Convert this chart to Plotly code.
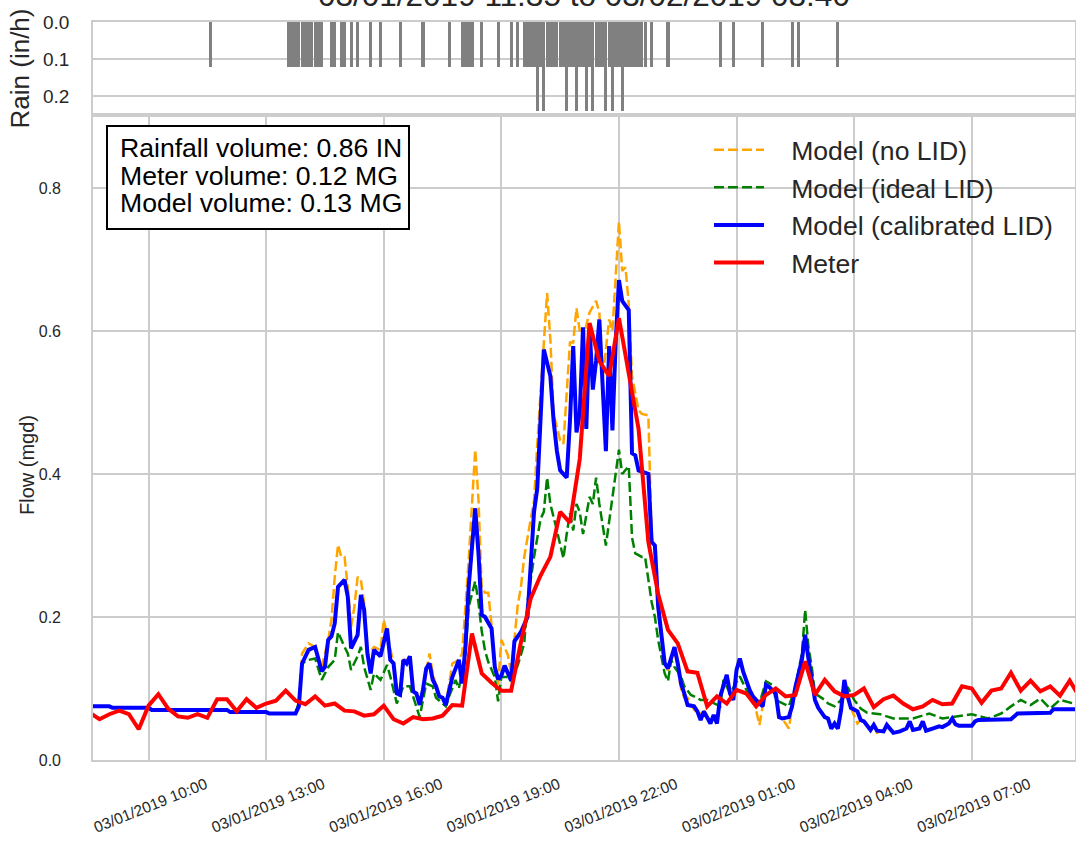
import plotly.graph_objects as go
import pandas as pd
from datetime import datetime


def ts(s):
    d, hm = s.split()
    h, m = hm.split(":")
    return datetime(2019, 3, int(d), int(h), int(m))


# ---------------- data ----------------
meter_start = "2019-03-01 08:30"
meter_vals = [
    0.066, 0.057, 0.064, 0.069, 0.064, 0.043, 0.076, 0.092, 0.072, 0.061,
    0.059, 0.064, 0.059, 0.085, 0.085, 0.068, 0.085, 0.073, 0.079, 0.083,
    0.097, 0.083, 0.078, 0.089, 0.076, 0.079, 0.069, 0.068, 0.062, 0.064,
    0.076, 0.057, 0.051, 0.060, 0.057, 0.058, 0.062, 0.077, 0.076, 0.177,
    0.121, 0.108, 0.097, 0.097, 0.165, 0.226, 0.258, 0.284, 0.347, 0.332,
    0.421, 0.611, 0.558, 0.537, 0.618, 0.542, 0.463, 0.305, 0.232, 0.182,
    0.163, 0.124, 0.122, 0.075, 0.089, 0.079, 0.098, 0.093, 0.075, 0.091,
    0.100, 0.089, 0.091, 0.138, 0.091, 0.112, 0.096, 0.089, 0.091, 0.100,
    0.074, 0.085, 0.090, 0.079, 0.071, 0.075, 0.084, 0.078, 0.079, 0.103,
    0.100, 0.080, 0.097, 0.100, 0.122, 0.097, 0.111, 0.096, 0.103, 0.090,
    0.111, 0.088,
]

calib_times = [
    "1 08:30", "1 09:00", "1 09:05", "1 10:00", "1 10:05", "1 12:00", "1 12:05", "1 13:00",
    "1 13:05", "1 13:45", "1 13:50", "1 13:55", "1 14:05", "1 14:15", "1 14:25", "1 14:30",
    "1 14:35", "1 14:40", "1 14:45", "1 14:50", "1 15:00", "1 15:05", "1 15:10", "1 15:15",
    "1 15:20", "1 15:25", "1 15:30", "1 15:35", "1 15:40", "1 15:45", "1 15:55", "1 16:05",
    "1 16:10", "1 16:15", "1 16:20", "1 16:25", "1 16:30", "1 16:35", "1 16:40", "1 16:45",
    "1 16:50", "1 16:55", "1 17:00", "1 17:05", "1 17:10", "1 17:15", "1 17:20", "1 17:25",
    "1 17:30", "1 17:35", "1 17:40", "1 17:45", "1 17:55", "1 18:00", "1 18:05", "1 18:10",
    "1 18:20", "1 18:25", "1 18:30", "1 18:35", "1 18:45", "1 18:50", "1 18:55", "1 19:00",
    "1 19:05", "1 19:15", "1 19:20", "1 19:30", "1 19:40", "1 19:50", "1 19:55", "1 20:00",
    "1 20:05", "1 20:15", "1 20:20", "1 20:25", "1 20:30", "1 20:40", "1 20:45", "1 20:50",
    "1 20:55", "1 21:00", "1 21:05", "1 21:10", "1 21:15", "1 21:20", "1 21:25", "1 21:30",
    "1 21:35", "1 21:40", "1 21:45", "1 21:50", "1 21:55", "1 22:00", "1 22:05", "1 22:15",
    "1 22:20", "1 22:25", "1 22:30", "1 22:45", "1 22:50", "1 22:55", "1 23:00", "1 23:10",
    "1 23:15", "1 23:25", "1 23:30", "1 23:35", "1 23:40", "1 23:45", "1 23:55", "2 00:00",
    "2 00:05", "2 00:10", "2 00:20", "2 00:25", "2 00:30", "2 00:35", "2 00:45", "2 00:50",
    "2 00:55", "2 01:00", "2 01:05", "2 01:10", "2 01:20", "2 01:25", "2 01:35", "2 01:40",
    "2 01:45", "2 01:50", "2 02:00", "2 02:05", "2 02:10", "2 02:20", "2 02:25", "2 02:30",
    "2 02:40", "2 02:45", "2 02:50", "2 02:55", "2 03:00", "2 03:05", "2 03:15", "2 03:20",
    "2 03:25", "2 03:30", "2 03:35", "2 03:40", "2 03:45", "2 03:50", "2 03:55", "2 04:05",
    "2 04:10", "2 04:15", "2 04:25", "2 04:30", "2 04:35", "2 04:45", "2 04:50", "2 05:00",
    "2 05:10", "2 05:20", "2 05:25", "2 05:30", "2 05:40", "2 05:45", "2 05:50", "2 06:00",
    "2 06:10", "2 06:15", "2 06:25", "2 06:30", "2 06:35", "2 06:40", "2 07:00", "2 07:05",
    "2 07:10", "2 08:00", "2 08:10", "2 09:00", "2 09:05", "2 09:40",
]
calib_vals = [
    0.075, 0.075, 0.073, 0.073, 0.070, 0.070, 0.067, 0.067,
    0.065, 0.065, 0.075, 0.135, 0.154, 0.158, 0.124, 0.130,
    0.168, 0.173, 0.191, 0.242, 0.252, 0.228, 0.156, 0.166,
    0.175, 0.231, 0.210, 0.149, 0.121, 0.154, 0.145, 0.184,
    0.140, 0.135, 0.093, 0.091, 0.140, 0.135, 0.145, 0.096,
    0.093, 0.077, 0.098, 0.128, 0.135, 0.112, 0.103, 0.089,
    0.087, 0.077, 0.098, 0.116, 0.140, 0.107, 0.158, 0.242,
    0.352, 0.289, 0.203, 0.200, 0.184, 0.130, 0.113, 0.118,
    0.132, 0.111, 0.166, 0.179, 0.200, 0.347, 0.380, 0.468,
    0.574, 0.537, 0.474, 0.432, 0.405, 0.395, 0.474, 0.579,
    0.458, 0.484, 0.605, 0.463, 0.605, 0.518, 0.558, 0.616,
    0.511, 0.432, 0.579, 0.461, 0.584, 0.671, 0.642, 0.629,
    0.429, 0.426, 0.405, 0.400, 0.305, 0.300, 0.215, 0.135,
    0.128, 0.158, 0.135, 0.107, 0.093, 0.077, 0.075, 0.068,
    0.056, 0.068, 0.051, 0.063, 0.051, 0.089, 0.119, 0.093,
    0.084, 0.126, 0.142, 0.124, 0.098, 0.089, 0.079, 0.075,
    0.105, 0.102, 0.093, 0.060, 0.058, 0.060, 0.075, 0.102,
    0.140, 0.175, 0.142, 0.114, 0.084, 0.073, 0.060, 0.058,
    0.044, 0.051, 0.044, 0.070, 0.112, 0.089, 0.073, 0.068,
    0.056, 0.054, 0.042, 0.049, 0.041, 0.040, 0.049, 0.038,
    0.040, 0.044, 0.054, 0.042, 0.044, 0.054, 0.041, 0.044,
    0.047, 0.046, 0.051, 0.058, 0.050, 0.048, 0.048, 0.054,
    0.056, 0.057, 0.065, 0.066, 0.071, 0.071,
]

nolid_times = [
    "1 08:30", "1 09:00", "1 09:05", "1 10:00", "1 10:05", "1 12:00", "1 12:05", "1 13:00",
    "1 13:05", "1 13:45", "1 13:50", "1 13:55", "1 14:05", "1 14:15", "1 14:25", "1 14:35",
    "1 14:40", "1 14:45", "1 14:50", "1 14:55", "1 15:00", "1 15:05", "1 15:10", "1 15:15",
    "1 15:20", "1 15:25", "1 15:30", "1 15:35", "1 15:45", "1 15:55", "1 16:00", "1 16:10",
    "1 16:15", "1 16:20", "1 16:25", "1 16:30", "1 16:40", "1 16:45", "1 16:55", "1 17:00",
    "1 17:10", "1 17:15", "1 17:25", "1 17:30", "1 17:35", "1 17:45", "1 17:55", "1 18:00",
    "1 18:10", "1 18:20", "1 18:25", "1 18:30", "1 18:35", "1 18:40", "1 18:45", "1 18:50",
    "1 18:55", "1 19:00", "1 19:10", "1 19:15", "1 19:25", "1 19:30", "1 19:35", "1 19:45",
    "1 19:50", "1 19:55", "1 20:05", "1 20:10", "1 20:15", "1 20:20", "1 20:30", "1 20:35",
    "1 20:45", "1 20:50", "1 20:55", "1 21:00", "1 21:05", "1 21:15", "1 21:25", "1 21:30",
    "1 21:35", "1 21:45", "1 21:50", "1 21:55", "1 22:00", "1 22:05", "1 22:10", "1 22:15",
    "1 22:20", "1 22:30", "1 22:35", "1 22:45", "1 22:50", "1 22:55", "1 23:00", "1 23:10",
    "1 23:15", "1 23:25", "1 23:30", "1 23:35", "1 23:40", "1 23:45", "1 23:55", "2 00:05",
    "2 00:10", "2 00:20", "2 00:25", "2 00:30", "2 00:35", "2 00:45", "2 00:50", "2 00:55",
    "2 01:00", "2 01:05", "2 01:10", "2 01:20", "2 01:25", "2 01:35", "2 01:40", "2 01:45",
    "2 01:50", "2 02:00", "2 02:05", "2 02:10", "2 02:20", "2 02:25", "2 02:30", "2 02:40",
    "2 02:45", "2 02:50", "2 02:55", "2 03:00", "2 03:05", "2 03:15", "2 03:20", "2 03:25",
    "2 03:30", "2 03:35", "2 03:40", "2 03:45", "2 03:50", "2 03:55", "2 04:05", "2 04:10",
    "2 04:15", "2 04:25", "2 04:30", "2 04:35", "2 04:45", "2 04:50", "2 05:00", "2 05:10",
    "2 05:20", "2 05:25", "2 05:30", "2 05:40", "2 05:45", "2 05:50", "2 06:00", "2 06:10",
    "2 06:15", "2 06:25", "2 06:30", "2 06:35", "2 06:40", "2 07:00", "2 07:05", "2 07:10",
    "2 08:00", "2 08:10", "2 09:00", "2 09:05", "2 09:40",
]
nolid_vals = [
    0.075, 0.075, 0.073, 0.073, 0.070, 0.070, 0.067, 0.067,
    0.065, 0.065, 0.080, 0.149, 0.163, 0.158, 0.130, 0.168,
    0.196, 0.256, 0.301, 0.284, 0.284, 0.242, 0.186, 0.214,
    0.256, 0.252, 0.219, 0.145, 0.158, 0.154, 0.196, 0.158,
    0.135, 0.093, 0.091, 0.140, 0.140, 0.100, 0.080, 0.100,
    0.149, 0.121, 0.089, 0.085, 0.077, 0.135, 0.140, 0.149,
    0.280, 0.434, 0.364, 0.240, 0.234, 0.234, 0.189, 0.132,
    0.105, 0.168, 0.147, 0.121, 0.216, 0.242, 0.284, 0.337,
    0.363, 0.442, 0.589, 0.653, 0.589, 0.484, 0.447, 0.442,
    0.584, 0.584, 0.632, 0.600, 0.589, 0.626, 0.642, 0.626,
    0.532, 0.616, 0.600, 0.674, 0.753, 0.684, 0.689, 0.637,
    0.537, 0.489, 0.484, 0.482, 0.311, 0.300, 0.205, 0.137,
    0.125, 0.155, 0.130, 0.100, 0.087, 0.087, 0.070, 0.065,
    0.068, 0.051, 0.063, 0.051, 0.089, 0.119, 0.093, 0.084,
    0.126, 0.142, 0.124, 0.098, 0.089, 0.049, 0.075, 0.105,
    0.102, 0.093, 0.060, 0.058, 0.044, 0.075, 0.102, 0.140,
    0.175, 0.142, 0.114, 0.084, 0.073, 0.060, 0.058, 0.044,
    0.051, 0.044, 0.070, 0.112, 0.089, 0.073, 0.051, 0.056,
    0.054, 0.042, 0.049, 0.038, 0.040, 0.049, 0.038, 0.040,
    0.044, 0.054, 0.042, 0.044, 0.054, 0.041, 0.044, 0.047,
    0.046, 0.051, 0.058, 0.050, 0.048, 0.048, 0.054, 0.056,
    0.057, 0.065, 0.066, 0.071, 0.071,
]

ideal_times = [
    "1 08:30", "1 09:00", "1 09:05", "1 10:00", "1 10:05", "1 12:00", "1 12:05", "1 13:00",
    "1 13:05", "1 13:45", "1 13:50", "1 13:55", "1 14:05", "1 14:15", "1 14:25", "1 14:35",
    "1 14:45", "1 14:50", "1 15:00", "1 15:05", "1 15:10", "1 15:20", "1 15:25", "1 15:30",
    "1 15:40", "1 15:45", "1 15:55", "1 16:05", "1 16:10", "1 16:20", "1 16:30", "1 16:40",
    "1 16:55", "1 17:05", "1 17:15", "1 17:20", "1 17:35", "1 17:40", "1 17:50", "1 17:55",
    "1 18:05", "1 18:10", "1 18:20", "1 18:25", "1 18:30", "1 18:35", "1 18:40", "1 18:50",
    "1 18:55", "1 19:00", "1 19:10", "1 19:15", "1 19:25", "1 19:35", "1 19:40", "1 19:50",
    "1 20:00", "1 20:05", "1 20:10", "1 20:15", "1 20:25", "1 20:30", "1 20:35", "1 20:40",
    "1 20:45", "1 20:50", "1 20:55", "1 21:00", "1 21:05", "1 21:15", "1 21:20", "1 21:25",
    "1 21:30", "1 21:40", "1 21:50", "1 21:55", "1 22:00", "1 22:05", "1 22:15", "1 22:20",
    "1 22:25", "1 22:35", "1 22:40", "1 22:50", "1 22:55", "1 23:00", "1 23:10", "1 23:15",
    "1 23:20", "1 23:25", "1 23:35", "1 23:40", "1 23:50", "1 23:55", "2 00:05", "2 00:15",
    "2 00:25", "2 00:35", "2 00:40", "2 00:50", "2 01:05", "2 01:15", "2 01:25", "2 01:35",
    "2 01:45", "2 01:55", "2 02:00", "2 02:10", "2 02:20", "2 02:30", "2 02:40", "2 02:45",
    "2 02:50", "2 02:55", "2 03:00", "2 03:15", "2 03:20", "2 03:30", "2 03:40", "2 03:50",
    "2 04:00", "2 04:10", "2 04:20", "2 04:40", "2 05:00", "2 05:30", "2 05:55", "2 06:15",
    "2 06:40", "2 07:00", "2 07:25", "2 07:45", "2 08:00", "2 08:15", "2 08:30", "2 08:45",
    "2 09:00", "2 09:15", "2 09:40",
]
ideal_vals = [
    0.075, 0.075, 0.073, 0.073, 0.070, 0.070, 0.067, 0.067,
    0.065, 0.065, 0.080, 0.135, 0.140, 0.142, 0.112, 0.130,
    0.140, 0.179, 0.158, 0.149, 0.126, 0.145, 0.158, 0.130,
    0.098, 0.121, 0.112, 0.133, 0.117, 0.079, 0.103, 0.103,
    0.060, 0.107, 0.103, 0.087, 0.075, 0.089, 0.112, 0.100,
    0.149, 0.214, 0.250, 0.220, 0.180, 0.153, 0.137, 0.116,
    0.082, 0.116, 0.116, 0.111, 0.132, 0.163, 0.221, 0.284,
    0.337, 0.347, 0.395, 0.358, 0.321, 0.300, 0.282, 0.316,
    0.345, 0.321, 0.358, 0.347, 0.316, 0.368, 0.358, 0.395,
    0.358, 0.300, 0.368, 0.405, 0.434, 0.400, 0.411, 0.311,
    0.289, 0.284, 0.284, 0.221, 0.200, 0.168, 0.121, 0.110,
    0.140, 0.130, 0.117, 0.103, 0.091, 0.089, 0.084, 0.084,
    0.079, 0.075, 0.112, 0.093, 0.117, 0.098, 0.082, 0.079,
    0.110, 0.105, 0.084, 0.079, 0.075, 0.102, 0.149, 0.210,
    0.158, 0.131, 0.093, 0.084, 0.079, 0.075, 0.084, 0.102,
    0.084, 0.072, 0.066, 0.064, 0.058, 0.058, 0.065, 0.058,
    0.061, 0.064, 0.058, 0.065, 0.075, 0.084, 0.077, 0.086,
    0.072, 0.084, 0.078,
]

rain_times = [
    "1 11:35",
    "1 13:35", "1 13:40", "1 13:45", "1 13:50", "1 13:55", "1 14:00", "1 14:05", "1 14:10", "1 14:15",
    "1 14:20", "1 14:25", "1 14:40", "1 14:45", "1 14:55", "1 15:00", "1 15:10", "1 15:20",
    "1 15:40", "1 15:55", "1 16:25", "1 17:00", "1 17:40",
    "1 18:00", "1 18:05", "1 18:10", "1 18:15", "1 18:30", "1 18:55", "1 19:15", "1 19:25",
    "1 19:35", "1 19:40", "1 19:45", "1 19:50", "1 19:55", "1 20:00", "1 20:05", "1 20:10",
    "1 20:15", "1 20:20", "1 20:25", "1 20:30", "1 20:35", "1 20:40", "1 20:45", "1 20:50",
    "1 20:55", "1 21:00", "1 21:05", "1 21:10", "1 21:15", "1 21:20", "1 21:25", "1 21:30",
    "1 21:35", "1 21:40", "1 21:45", "1 21:50", "1 21:55", "1 22:00", "1 22:05", "1 22:10",
    "1 22:15", "1 22:20", "1 22:25", "1 22:30", "1 22:35", "1 22:40",
    "1 22:50", "1 23:15", "2 00:35", "2 00:55", "2 01:40", "2 02:25", "2 02:35", "2 03:35",
]
rain_vals = [
    0.12,
    0.12, 0.12, 0.12, 0.12, 0.12, 0.12, 0.12, 0.12, 0.12,
    0.12, 0.12, 0.12, 0.12, 0.12, 0.12, 0.12, 0.12,
    0.12, 0.12, 0.12, 0.12, 0.12,
    0.12, 0.12, 0.12, 0.12, 0.12, 0.12, 0.12, 0.12,
    0.12, 0.12, 0.12, 0.12, 0.24, 0.12, 0.24, 0.12,
    0.12, 0.12, 0.12, 0.12, 0.12, 0.24, 0.12, 0.12,
    0.24, 0.12, 0.12, 0.24, 0.12, 0.24, 0.12, 0.12,
    0.12, 0.24, 0.12, 0.24, 0.12, 0.12, 0.24, 0.12,
    0.12, 0.12, 0.12, 0.12, 0.12, 0.12,
    0.12, 0.12, 0.12, 0.12, 0.12, 0.12, 0.12, 0.12,
]

title_text = "03/01/2019 11:35 to 03/02/2019 03:40"
summary_lines = ["Rainfall volume: 0.86 IN", "Meter volume: 0.12 MG", "Model volume: 0.13 MG"]
series_names = ["Model (no LID)", "Model (ideal LID)", "Model (calibrated LID)", "Meter"]

# ---------------- figure ----------------
FONT = "Liberation Sans, Arial, sans-serif"
TXT = "#262626"
GRID = "#cccccc"
PADNAME = "\u00a0\u00a0\u00a0"

# plot area in pixels: x 93..1075, y 22..760
PL, PR, PT, PB = 93, 1075, 22, 760
PW, PH = PR - PL, PB - PT


def px_x(x):
    return (x - PL) / PW


def px_y(y):
    return (PB - y) / PH


meter_times = pd.date_range(meter_start, periods=len(meter_vals), freq="15min")

fig = go.Figure()
fig.add_trace(go.Scatter(x=[ts(t) for t in nolid_times], y=nolid_vals, mode="lines",
                         name=PADNAME + series_names[0],
                         line=dict(color="orange", width=2.5, dash="10px,4px")))
fig.add_trace(go.Scatter(x=[ts(t) for t in ideal_times], y=ideal_vals, mode="lines",
                         name=PADNAME + series_names[1],
                         line=dict(color="green", width=2.5, dash="10px,4px")))
fig.add_trace(go.Scatter(x=[ts(t) for t in calib_times], y=calib_vals, mode="lines",
                         name=PADNAME + series_names[2],
                         line=dict(color="blue", width=4)))
fig.add_trace(go.Scatter(x=meter_times, y=meter_vals, mode="lines",
                         name=PADNAME + series_names[3],
                         line=dict(color="red", width=4)))
fig.add_trace(go.Bar(x=[ts(t) for t in rain_times], y=rain_vals, xaxis="x2", yaxis="y2",
                     marker=dict(color="gray", line=dict(width=0)), width=285000,
                     showlegend=False))

x_range = ["2019-03-01 08:35", "2019-03-02 09:38"]
split = px_y(115)

fig.update_layout(
    width=1076, height=844, autosize=False,
    margin=dict(l=PL, r=1076 - PR, t=PT, b=844 - PB, autoexpand=False),
    paper_bgcolor="white", plot_bgcolor="white",
    font=dict(family=FONT, color=TXT),
    showlegend=True,
    bargap=0,
    xaxis=dict(domain=[0, 1], anchor="y", type="date", range=x_range, automargin=False,
               tick0="2019-03-01 10:00", dtick=3 * 3600 * 1000,
               tickformat="%m/%d/%Y %H:%M", tickangle=-22,
               tickfont=dict(size=15.5, color=TXT), ticklabelshift=57,
               ticklabelstandoff=8,
               showgrid=True, gridcolor=GRID, gridwidth=1.5,
               showline=True, linecolor=GRID, linewidth=1.6, mirror=True,
               zeroline=False, ticks=""),
    yaxis=dict(domain=[0, split], anchor="x", range=[0, 0.902], automargin=False,
               tickvals=[0, 0.2, 0.4, 0.6, 0.8], tickformat=".1f",
               tickfont=dict(size=16, color=TXT), ticklabelstandoff=27,
               showgrid=True, gridcolor=GRID, gridwidth=1.5,
               showline=True, linecolor=GRID, linewidth=1.6, mirror=True,
               zeroline=False, ticks=""),
    xaxis2=dict(domain=[0, 1], anchor="y2", type="date", matches="x", automargin=False,
                showticklabels=False, showgrid=False,
                showline=True, linecolor=GRID, linewidth=1.6, mirror=True,
                zeroline=False, ticks=""),
    yaxis2=dict(domain=[split, 1], anchor="x2", range=[0.25, 0], automargin=False,
                tickvals=[0, 0.1, 0.2], tickformat=".1f",
                tickfont=dict(size=19, color=TXT), ticklabelstandoff=18,
                title=dict(text="Rain (in/h)", font=dict(size=26, color=TXT), standoff=6),
                showgrid=True, gridcolor=GRID, gridwidth=1.5,
                showline=True, linecolor=GRID, linewidth=1.6, mirror=True,
                zeroline=False, ticks=""),
    legend=dict(x=px_x(709), xanchor="left", y=px_y(126), yanchor="top",
                bgcolor="rgba(0,0,0,0)", font=dict(size=26.6, color=TXT),
                itemwidth=50),
)

# flow axis title (placed like the reference, a little below the axis centre)
fig.add_annotation(text="Flow (mgd)", xref="paper", yref="paper", x=px_x(27), y=px_y(465),
                   xanchor="center", yanchor="middle", textangle=-90, showarrow=False,
                   font=dict(size=20, color=TXT))

# chart title (partly above the page edge, as in the reference)
fig.add_annotation(text=title_text, xref="paper", yref="paper", x=0.5, y=px_y(-5),
                   xanchor="center", yanchor="middle", showarrow=False,
                   font=dict(size=31.5, color=TXT))

# summary box
fig.add_shape(type="rect", xref="paper", yref="paper", x0=px_x(107), x1=px_x(409),
              y0=px_y(229), y1=px_y(126), line=dict(color="black", width=2),
              fillcolor="white", layer="above")
for i, line in enumerate(summary_lines):
    fig.add_annotation(text=line, xref="paper", yref="paper",
                       x=px_x(118), y=px_y(148 + 27.5 * i),
                       xanchor="left", yanchor="middle", showarrow=False,
                       font=dict(size=26.6, color="black"))

fig.write_html("out.html", config={"responsive": False, "displayModeBar": False},
               default_width="1076px", default_height="844px")

with open("out.html", "r", encoding="utf-8") as f:
    html = f.read()
html = html.replace("<head>", "<head><style>html,body{margin:0;padding:0;overflow:hidden;}</style>", 1)
with open("out.html", "w", encoding="utf-8") as f:
    f.write(html)
